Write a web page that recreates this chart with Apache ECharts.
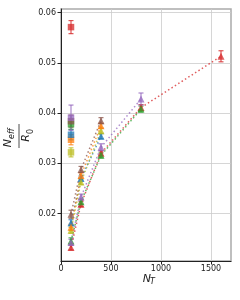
<!DOCTYPE html>
<html><head><meta charset="utf-8">
<script src="https://cdn.jsdelivr.net/npm/echarts@6/dist/echarts.min.js"></script>
<style>html,body{margin:0;padding:0;background:#fff}#c{width:240px;height:300px}</style>
</head><body><div id="c"></div>
<script>
// ---- data ----
const xTicks = [0, 500, 1000, 1500];
const yTicks = [0.02, 0.03, 0.04, 0.05, 0.06];
// triangle series (connected by dotted lines)
const nBrown = [100, 200, 400], vBrown = [0.0199, 0.0288, 0.0385], eBrown = [0.0008, 0.0006, 0.0006];
const nOrange = [100, 200, 400], vOrange = [0.0173, 0.0276, 0.0375], eOrange = [0.0006, 0.0005, 0.0005];
const nBlue = [100, 200, 400], vBlue = [0.0182, 0.0270, 0.0354], eBlue = [0.0006, 0.0005, 0.0005];
const nOlive = [100, 200, 400], vOlive = [0.0167, 0.0263, 0.0365], eOlive = [0.0006, 0.0005, 0.0005];
const nPurple = [100, 200, 400, 800], vPurple = [0.0143, 0.0233, 0.0332, 0.0428], ePurple = [0.0006, 0.0006, 0.0007, 0.0012];
const nGreen = [100, 200, 400, 800], vGreen = [0.0146, 0.0224, 0.0316, 0.0408], eGreen = [0.0006, 0.0005, 0.0005, 0.0006];
const nRed = [100, 200, 400, 800, 1600], vRed = [0.0133, 0.0219, 0.0320, 0.0411, 0.0513], eRed = [0.0005, 0.0005, 0.0005, 0.0006, 0.0011];
// square points at N_T = 100
const sqN = 100;
const sqNames = ['red', 'purple', 'brown', 'green', 'blue', 'orange', 'olive'];
const sqVals = [0.0571, 0.0391, 0.0384, 0.0378, 0.0357, 0.0347, 0.0322];
const sqErrs = [0.0013, 0.0025, 0.0012, 0.0010, 0.0010, 0.0010, 0.0009];

const C = {blue:'#1f77b4', orange:'#ff7f0e', green:'#2ca02c', red:'#d62728', purple:'#9467bd', brown:'#8c564b', olive:'#bcbd22'};

function zip(n, v) { return n.map((x, i) => [x, v[i]]); }
function errData(n, v, e) { return n.map((x, i) => [x, v[i], e[i]]); }

function errSeries(data, color) {
  return {
    type: 'custom', data: data, z: 3, silent: true,
    renderItem: function (params, api) {
      const x = api.value(0), y = api.value(1), e = api.value(2);
      const p1 = api.coord([x, y + e]), p2 = api.coord([x, y - e]);
      const w = 2.5;
      const st = {stroke: color, lineWidth: 1.2, opacity: 0.8};
      return {type: 'group', children: [
        {type: 'line', shape: {x1: p1[0], y1: p1[1], x2: p2[0], y2: p2[1]}, style: st},
        {type: 'line', shape: {x1: p1[0]-w, y1: p1[1], x2: p1[0]+w, y2: p1[1]}, style: st},
        {type: 'line', shape: {x1: p2[0]-w, y1: p2[1], x2: p2[0]+w, y2: p2[1]}, style: st}
      ]};
    }
  };
}
function triSeries(n, v, color) {
  return {
    type: 'line', data: zip(n, v), symbol: 'triangle', symbolSize: 7, z: 4,
    itemStyle: {color: color, opacity: 0.75},
    lineStyle: {color: color, width: 1.5, type: [1.5, 2.5], opacity: 0.75},
    emphasis: {disabled: true}, animation: false
  };
}

const series = [];
const tri = [
  [nRed, vRed, eRed, C.red], [nGreen, vGreen, eGreen, C.green], [nPurple, vPurple, ePurple, C.purple],
  [nBlue, vBlue, eBlue, C.blue], [nOlive, vOlive, eOlive, C.olive], [nOrange, vOrange, eOrange, C.orange],
  [nBrown, vBrown, eBrown, C.brown]
];
tri.forEach(t => { series.push(errSeries(errData(t[0], t[1], t[2]), t[3])); series.push(triSeries(t[0], t[1], t[3])); });
sqNames.slice().reverse().forEach((nm) => {
  const i = sqNames.indexOf(nm);
  series.push(errSeries([[sqN, sqVals[i], sqErrs[i]]], C[nm]));
  series.push({type: 'scatter', data: [[sqN, sqVals[i]]], symbol: 'rect', symbolSize: 6.5, z: 5,
    itemStyle: {color: C[nm], opacity: 0.75}, emphasis: {disabled: true}});
});

const chart = echarts.init(document.getElementById('c'), null, {renderer: 'canvas'});
const font = 'DejaVu Sans';
chart.setOption({
  animation: false,
  grid: {left: 61, right: 9, top: 9, bottom: 39, show: true, borderColor: '#aaaaaa', borderWidth: 1.5, backgroundColor: 'transparent'},
  xAxis: {
    type: 'value', min: 0, max: 1700,
    axisLine: {show: true, lineStyle: {color: '#222', width: 1}},
    axisTick: {show: true, length: 3.5, lineStyle: {color: '#222'}, customValues: xTicks},
    axisLabel: {customValues: xTicks, fontFamily: font, fontSize: 8, color: '#222', margin: 4,
      formatter: v => String(v)},
    splitLine: {show: true, lineStyle: {color: '#cccccc', width: 0.8}}
  },
  yAxis: {
    type: 'value', min: 0.0106, max: 0.0607,
    axisLine: {show: true, lineStyle: {color: '#222', width: 1}},
    axisTick: {show: true, length: 3.5, lineStyle: {color: '#222'}, customValues: yTicks},
    axisLabel: {customValues: yTicks, fontFamily: font, fontSize: 8, color: '#222', margin: 5,
      formatter: v => v.toFixed(2)},
    splitLine: {show: true, lineStyle: {color: '#cccccc', width: 0.8}}
  },
  graphic: [
    {type: 'group', x: 19, y: 136, rotation: Math.PI / 2, children: [
      {type: 'text', x: -3, y: -5, style: {text: 'N', font: 'italic 11px DejaVu Sans', fill: '#222', align: 'right', verticalAlign: 'bottom'}},
      {type: 'text', x: -3, y: -3, style: {text: 'eff', font: 'italic 8px DejaVu Sans', fill: '#222', align: 'left', verticalAlign: 'bottom'}},
      {type: 'line', shape: {x1: -12, y1: 0, x2: 12, y2: 0}, style: {stroke: '#222', lineWidth: 0.8}},
      {type: 'text', x: 2, y: 2, style: {text: 'R', font: 'italic 11px DejaVu Sans', fill: '#222', align: 'right', verticalAlign: 'top'}},
      {type: 'text', x: 2, y: 8, style: {text: '0', font: '8px DejaVu Sans', fill: '#222', align: 'left', verticalAlign: 'top'}}
    ]},
    {type: 'group', x: 150, y: 279, children: [
      {type: 'text', x: 1, y: 0, style: {text: 'N', font: 'italic 11px DejaVu Sans', fill: '#222', align: 'right', verticalAlign: 'middle'}},
      {type: 'text', x: 0, y: 3, style: {text: 'T', font: 'italic 8px DejaVu Sans', fill: '#222', align: 'left', verticalAlign: 'middle'}}
    ]}
  ],
  series: series
});
</script></body></html>
